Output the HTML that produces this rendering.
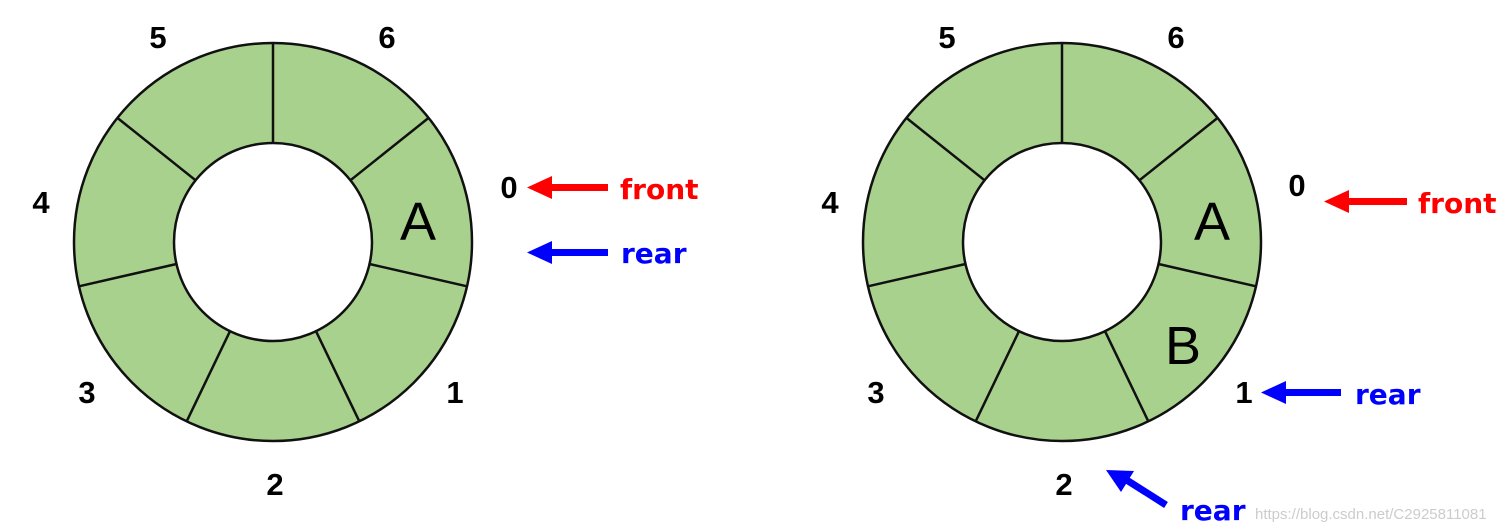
<!DOCTYPE html>
<html><head><style>
html,body{margin:0;padding:0;background:#fff;}
svg{display:block;}
text{font-family:"Liberation Sans","DejaVu Sans",sans-serif;}
.n{font-size:31px;font-weight:bold;fill:#000;text-anchor:middle;}
.l{font-size:28px;font-weight:bold;font-family:"DejaVu Sans",sans-serif;}
</style></head><body>
<svg width="1509" height="531" viewBox="0 0 1509 531" xmlns="http://www.w3.org/2000/svg">
<defs>
<g id="ring">
<circle cx="0" cy="0" r="199" fill="#a9d18e" stroke="#111" stroke-width="2.5"/>
<circle cx="0" cy="0" r="99" fill="#fff" stroke="#111" stroke-width="2.5"/>
<g stroke="#111" stroke-width="2.5">
<line x1="0" y1="-99" x2="0" y2="-199"/>
<line x1="77.4" y1="-61.7" x2="155.6" y2="-124.1"/>
<line x1="96.5" y1="22" x2="194" y2="44.3"/>
<line x1="43" y1="89.2" x2="86.3" y2="179.3"/>
<line x1="-43" y1="89.2" x2="-86.3" y2="179.3"/>
<line x1="-96.5" y1="22" x2="-194" y2="44.3"/>
<line x1="-77.4" y1="-61.7" x2="-155.6" y2="-124.1"/>
</g>
</g>
</defs>
<use href="#ring" x="273" y="242"/>
<use href="#ring" x="1062" y="242"/>
<text x="418" y="240" style="font-size:54px" text-anchor="middle">A</text>
<text x="1212" y="240" style="font-size:54px" text-anchor="middle">A</text>
<text x="1183" y="364" style="font-size:54px" text-anchor="middle">B</text>

<text class="n" x="158" y="48">5</text>
<text class="n" x="387" y="48">6</text>
<text class="n" x="41" y="213">4</text>
<text class="n" x="87" y="403">3</text>
<text class="n" x="455" y="403">1</text>
<text class="n" x="275" y="495">2</text>
<text class="n" x="509" y="198">0</text>

<text class="n" x="947" y="48">5</text>
<text class="n" x="1176" y="48">6</text>
<text class="n" x="830" y="213">4</text>
<text class="n" x="876" y="403">3</text>
<text class="n" x="1244" y="403">1</text>
<text class="n" x="1064" y="495">2</text>
<text class="n" x="1297" y="196">0</text>

<rect x="548" y="184" width="60" height="7" fill="#f00"/>
<polygon points="527,187.5 552,176 552,199" fill="#f00"/>
<text class="l" x="620" y="199" fill="#f00">front</text>
<rect x="548" y="249" width="60" height="7" fill="#00f"/>
<polygon points="527,252.5 552,241 552,264" fill="#00f"/>
<text class="l" x="621" y="263" fill="#00f">rear</text>

<rect x="1345" y="198" width="62" height="7" fill="#f00"/>
<polygon points="1324,201.5 1349,190 1349,213" fill="#f00"/>
<text class="l" x="1418" y="213" fill="#f00">front</text>
<rect x="1283" y="389" width="58" height="7" fill="#00f"/>
<polygon points="1261,392.5 1286,381 1286,404" fill="#00f"/>
<text class="l" x="1355" y="404" fill="#00f">rear</text>
<line x1="1166" y1="505" x2="1125" y2="479" stroke="#00f" stroke-width="7"/>
<polygon points="1106,470 1134,471 1121,492" fill="#00f"/>
<text class="l" x="1180" y="520" fill="#00f">rear</text>
<text x="1255" y="519" style="font-size:15px" fill="#ccc">https://blog.csdn.net/C2925811081</text>
</svg>
</body></html>
